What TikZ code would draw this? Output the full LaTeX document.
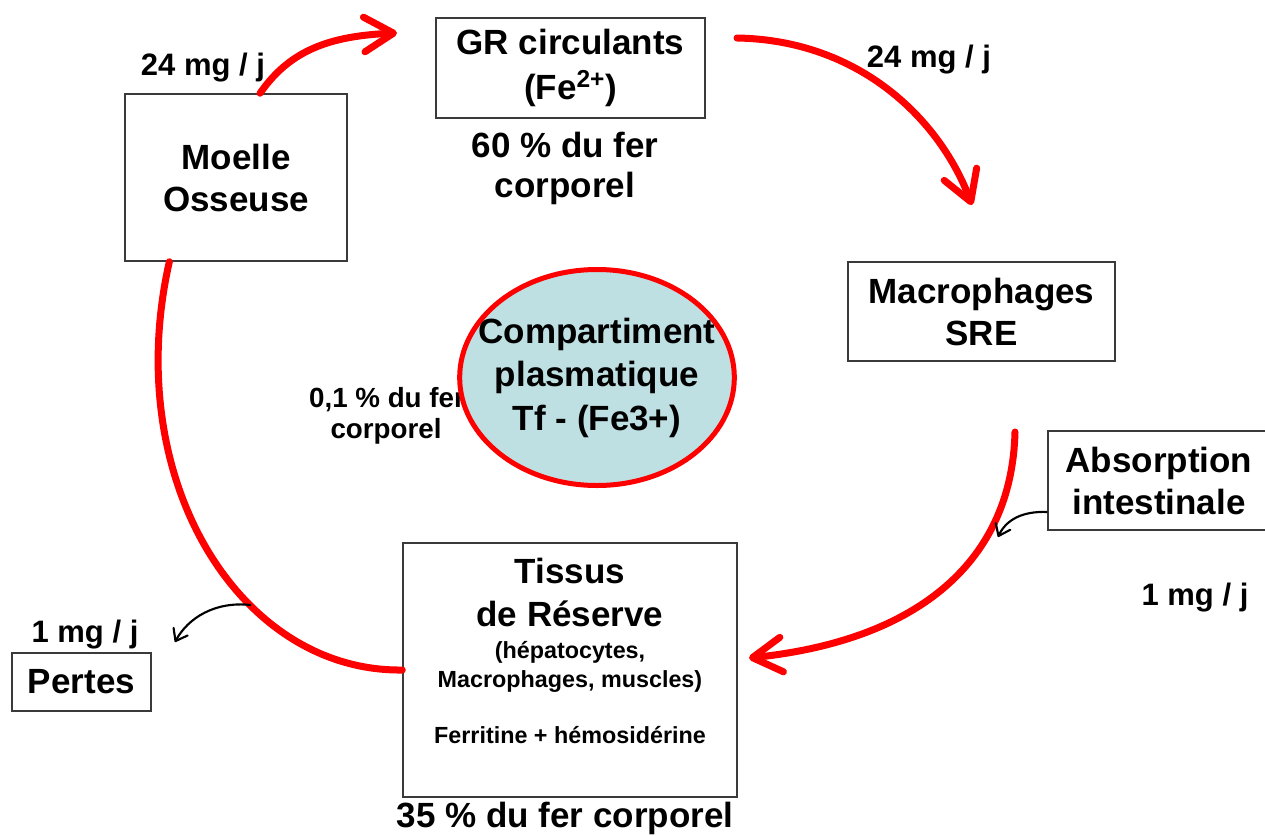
\documentclass[tikz,border=0pt]{standalone}
\usepackage{fontspec}
\setmainfont{Liberation Sans}
\usetikzlibrary{arrows.meta,shapes.geometric}
\definecolor{boxline}{HTML}{3A3A3A}
\definecolor{flowred}{HTML}{FF0000}
\definecolor{plasmafill}{HTML}{BEE0E3}
\begin{document}
\begin{tikzpicture}[x=0.75pt,y=-0.75pt,
  box/.style={draw=boxline, line width=1.1pt, inner sep=0pt, align=center,
    font=\bfseries\fontsize{26.25}{31.5}\selectfont},
  big/.style={anchor=base, inner sep=0pt, font=\bfseries\fontsize{26.25}{31.5}\selectfont},
  lbl/.style={anchor=base, inner sep=0pt, font=\bfseries\fontsize{23.25}{28}\selectfont},
  small/.style={anchor=base, inner sep=0pt, font=\bfseries\fontsize{20.8}{23}\selectfont},
  tiny/.style={anchor=base, inner sep=0pt, font=\bfseries\fontsize{17.5}{21.75}\selectfont},
  redflow/.style={draw=flowred, line width=5.25pt, line cap=round},
  redarrow/.style={redflow, -{Straight Barb[length=22pt,width=26pt,round]}},
  blackarrow/.style={draw=black, line width=1.6pt, -{Straight Barb[length=8pt,width=12pt,round]}}
]
\useasboundingbox (0,0) rectangle (1265,836);

% boxes
\node[box, minimum width=166.5pt, minimum height=125.25pt] (moelle) at (236,177.5) {Moelle\\Osseuse};
\node[box, minimum width=201.75pt, minimum height=75pt] (gr) at (570.5,68) {GR circulants\\[2pt](Fe\textsuperscript{2+})};
\node[box, minimum width=200.25pt, minimum height=74.25pt] (macro) at (981.5,311.5) {Macrophages\\SRE};
\node[box, minimum width=166.5pt, minimum height=74.25pt] (absorp) at (1159,480.5) {Absorption\\intestinale};
\node[box, minimum width=250.5pt, minimum height=190.5pt] (tissus) at (570,670) {};
\node[box, minimum width=104.25pt, minimum height=43.5pt] (pertes) at (81.5,682) {Pertes};

% texts
\node[lbl] (l24a) at (203,75) {24 mg / j};
\node[lbl] (l24b) at (929,67) {24 mg / j};
\node[lbl] (l1a) at (85,642) {1 mg / j};
\node[lbl] (l1b) at (1195,605) {1 mg / j};
\node[big] (p60a) at (565,157) {60 \% du fer};
\node[big] (p60b) at (565,197) {corporel};
\node[small] (p01a) at (387,407) {0,1 \% du fer};
\node[small] (p01b) at (386,438) {corporel};
\node[big] (ta) at (570,583) {Tissus};
\node[big] (tb) at (570,626) {de Réserve};
\node[tiny] (tc) at (570,658) {(hépatocytes,};
\node[tiny] (td) at (570,687) {Macrophages, muscles)};
\node[tiny] (te) at (570,743) {Ferritine + hémosidérine};
\node[big] (p35) at (565,827) {35 \% du fer corporel};

% plasma compartment
\node[ellipse, draw=flowred, line width=3.75pt, fill=plasmafill, minimum width=206pt, minimum height=162pt,
  inner sep=0pt] (plasma) at (597,377.5) {};
\node[align=center, inner sep=0pt, font=\bfseries\fontsize{26.25}{32.6}\selectfont] (plasmatext) at (plasma.center)
  {Compartiment\\plasmatique\\Tf - (Fe3+)};

% coordinates
\coordinate (t1) at (397,33);
\coordinate (s2) at (737,38);
\coordinate (t2) at (972,205);
\coordinate (s3) at (1015,432);
\coordinate (t3) at (749,658);
\coordinate (tA) at (998,537);
\coordinate (lossstart) at (251,605);
\coordinate (tB) at (175,642);

% red flows
\draw[redarrow] ([xshift=18pt]moelle.north) .. controls (290,50) and (330,36) .. (t1);
\draw[redarrow] (s2) .. controls (860,40) and (940,120) .. (t2);
\draw[redarrow] (s3) .. controls (1012,560) and (920,640) .. (t3);
\draw[redflow] (tissus.west) .. controls (240,672) and (120,480) .. ([xshift=-50pt]moelle.south);

% black arrows
\draw[blackarrow] ([yshift=-23.6pt]absorp.west) .. controls (1022,511) and (1006,520) .. (tA);
\draw[blackarrow] (lossstart) .. controls (215,601) and (188,618) .. (tB);
\end{tikzpicture}
\end{document}
